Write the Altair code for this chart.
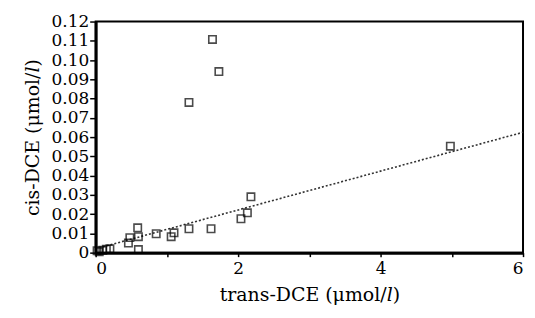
import altair as alt
import pandas as pd

trans_dce = [0.02, 0.05, 0.10, 0.15, 0.20, 0.46, 0.48, 0.59, 0.60, 0.60, 0.85, 1.06, 1.10,
             1.31, 1.62, 2.04, 2.13, 2.18, 4.98, 1.31, 1.64, 1.73]
cis_dce = [0.0010, 0.0005, 0.0012, 0.0018, 0.0020, 0.0050, 0.0078, 0.0129, 0.0083, 0.0016,
           0.0098, 0.0083, 0.0103, 0.0124, 0.0124, 0.0176, 0.0207, 0.0290, 0.0553,
           0.0780, 0.1107, 0.0940]
fit_x = [0.1, 6.0]
fit_y = [0.003, 0.0625]
x_ticks = [0, 1, 2, 3, 4, 5, 6]
y_ticks = [0, 0.01, 0.02, 0.03, 0.04, 0.05, 0.06, 0.07, 0.08, 0.09, 0.10, 0.11, 0.12]

pts = pd.DataFrame({"x": trans_dce, "y": cis_dce})
fit = pd.DataFrame({"x": fit_x, "y": fit_y})

font = "DejaVu Serif"
xscale = alt.Scale(domain=[0, 6], nice=False, zero=False)
yscale = alt.Scale(domain=[0, 0.12], nice=False)

xaxis = alt.Axis(values=x_ticks, labelExpr="datum.value % 2 == 0 ? datum.label : ''",
                 format="d", grid=False, tickSize=4, labelPadding=4, titlePadding=9,
                 labelOverlap=False)
yaxis = alt.Axis(values=y_ticks,
                 labelExpr="datum.value == 0 ? '0' : format(datum.value, '.2f')",
                 grid=False, tickSize=6, labelPadding=1, titlePadding=9,
                 labelOverlap=False, labelBound=False)

X = alt.X("x:Q", scale=xscale, axis=xaxis, title="trans-DCE (μmol/𝑙)")
Y = alt.Y("y:Q", scale=yscale, axis=yaxis, title="cis-DCE (μmol/𝑙)")

line = alt.Chart(fit).mark_line(color="#333333", strokeWidth=1.6, strokeDash=[2, 2]).encode(x=X, y=Y)
points = alt.Chart(pts).mark_point(shape="square", filled=False, color="black",
                                   size=55, strokeWidth=1.6).encode(x=X, y=Y)

chart = (line + points).properties(
    width=429, height=232,
    background="white",
    autosize=alt.AutoSizeParams(type="none"),
    padding={"left": 88, "top": 13, "right": 4, "bottom": 60},
).configure_view(stroke="black", strokeWidth=2).configure_axis(
    domainColor="black", domainWidth=3, tickColor="black", tickWidth=1.5,
    labelFont=font, titleFont=font, labelFontSize=17, titleFontSize=19,
    labelColor="black", titleColor="black", titleFontWeight="normal",
)

chart.save("out.html", embed_options={"renderer": "svg", "actions": False})
